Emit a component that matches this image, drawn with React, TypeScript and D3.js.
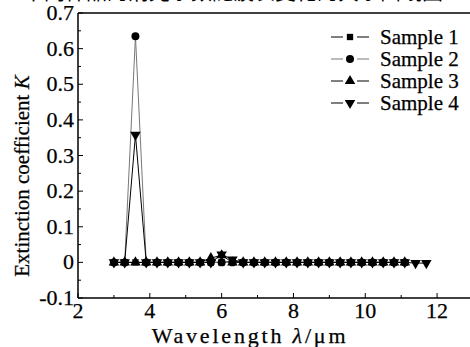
import React from "react";
import * as d3 from "d3";

const title = "不同样品的消光系数随波长变化的关系曲线图";
const xAll = [3.0, 3.3, 3.6, 3.9, 4.2, 4.5, 4.8, 5.1, 5.4, 5.7, 6.0, 6.3, 6.6, 6.9, 7.2, 7.5, 7.8, 8.1, 8.4, 8.7, 9.0, 9.3, 9.6, 9.9, 10.2, 10.5, 10.8, 11.1, 11.4, 11.7];
const sample1 = [0, 0, 0, 0, 0, 0, 0, 0, 0, 0, 0, 0.003, 0, 0, 0, 0, 0, 0, 0, 0, 0, 0, 0, 0, 0, 0, 0, 0];
const sample2 = [0, 0, 0.635, 0, 0, 0, 0, 0, 0, 0, 0, 0, 0, 0, 0, 0, 0, 0, 0, 0, 0, 0, 0, 0, 0, 0, 0, 0];
const sample3 = [0, 0, 0, 0, 0, 0, 0, 0, 0, 0.012, 0.02, 0, 0, 0, 0, 0, 0, 0, 0, 0, 0, 0, 0, 0, 0, 0, 0, 0];
const sample4 = [0, 0, 0.358, 0, 0, 0, 0, 0, 0, 0, 0.022, 0.008, 0, 0, 0, 0, 0, 0, 0, 0, 0, 0, 0, 0, 0, 0, 0, 0, -0.002, -0.002];
const seriesNames = ["Sample 1", "Sample 2", "Sample 3", "Sample 4"];
const xTicks = [2, 4, 6, 8, 10, 12];
const yTicks = [-0.1, 0, 0.1, 0.2, 0.3, 0.4, 0.5, 0.6, 0.7];
const yTickLabels = ["-0.1", "0", "0.1", "0.2", "0.3", "0.4", "0.5", "0.6", "0.7"];

const W = 470, H = 347;
const x = d3.scaleLinear().domain([2, 13]).range([78, 473]);
const y = d3.scaleLinear().domain([-0.1, 0.7]).range([298, 13]);
const serif = { fontFamily: "Liberation Serif, Times New Roman, serif", stroke: "#000", strokeWidth: 0.25 };

const allSeries = [sample1, sample2, sample3, sample4];
const shapes = [d3.symbolSquare, d3.symbolCircle, d3.symbolTriangle, d3.symbolTriangle];
const sizes = [40, 50, 48, 48];
const lineColors = ["#000", "#777", "#000", "#000"];

function Marker({ i, cx, cy }: { i: number; cx: number; cy: number }) {
  const p = d3.symbol().type(shapes[i]).size(sizes[i])();
  const rot = i === 3 ? 180 : 0;
  return <path d={p || ""} transform={`translate(${cx},${cy}) rotate(${rot})`} fill="#000" />;
}

export default function App() {
  const line = d3.line<number>().x((_, j) => x(xAll[j])).y((d) => y(d));
  const xMinor = d3.range(3, 13, 2);
  const yMinor = d3.range(-0.05, 0.7, 0.1);
  return (
    <svg width={W} height={H} style={{ display: "block", position: "absolute", left: 0, top: 0, background: "#fff" }}>
      <text x={23} y={-1} style={{ fontFamily: "Noto Sans CJK SC" }} fontSize={22} textLength={420} lengthAdjust="spacingAndGlyphs">{title}</text>
      <line x1={x(2)} x2={x(13)} y1={y(0.7)} y2={y(0.7)} stroke="#000" strokeWidth={1.5} />
      <line x1={x(2)} x2={x(13)} y1={y(-0.1)} y2={y(-0.1)} stroke="#000" strokeWidth={1.5} />
      <line x1={x(2)} x2={x(2)} y1={y(0.7)} y2={y(-0.1)} stroke="#000" strokeWidth={1.5} />
      {xTicks.map((t) => (
        <g key={"xt" + t}>
          <line x1={x(t)} x2={x(t)} y1={y(-0.1)} y2={y(-0.1) - 5} stroke="#000" />
          <text x={x(t)} y={318} textAnchor="middle" style={serif} fontSize={22}>{t}</text>
        </g>
      ))}
      {xMinor.map((t) => (
        <line key={"xm" + t} x1={x(t)} x2={x(t)} y1={y(-0.1)} y2={y(-0.1) - 3} stroke="#000" />
      ))}
      {yTicks.map((t, k) => (
        <g key={"yt" + t}>
          <line x1={x(2)} x2={x(2) + 5} y1={y(t)} y2={y(t)} stroke="#000" />
          <text x={74} y={y(t) + 7} textAnchor="end" style={serif} fontSize={22}>{yTickLabels[k]}</text>
        </g>
      ))}
      {yMinor.map((t) => (
        <line key={"ym" + t} x1={x(2)} x2={x(2) + 3} y1={y(t)} y2={y(t)} stroke="#000" />
      ))}
      {allSeries.map((s, i) => (
        <path key={"l" + i} d={line(s) || ""} fill="none" stroke={lineColors[i]} strokeWidth={1} />
      ))}
      {allSeries.map((s, i) => (
        <g key={"m" + i}>
          {s.map((v, j) => <Marker key={j} i={i} cx={x(xAll[j])} cy={y(v)} />)}
        </g>
      ))}
      {seriesNames.map((n, i) => {
        const ly = 37 + i * 22;
        return (
          <g key={n}>
            <line x1={331} x2={343} y1={ly} y2={ly} stroke={lineColors[i]} />
            <line x1={357} x2={369} y1={ly} y2={ly} stroke={lineColors[i]} />
            <Marker i={i} cx={350} cy={ly} />
            <text x={380} y={ly + 7} style={serif} fontSize={21}>{n}</text>
          </g>
        );
      })}
      <text x={250} y={343} textAnchor="middle" style={serif} fontSize={22} letterSpacing={2.8}>
        Wavelength <tspan fontStyle="italic">λ</tspan>/μm
      </text>
      <text transform="translate(29,176) rotate(-90)" textAnchor="middle" style={serif} fontSize={21}>
        Extinction coefficient <tspan fontStyle="italic">K</tspan>
      </text>
    </svg>
  );
}
